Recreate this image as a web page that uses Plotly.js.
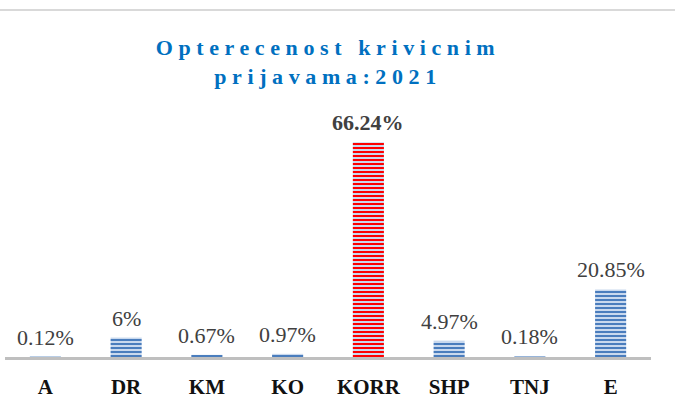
<!DOCTYPE html>
<html>
<head>
<meta charset="utf-8">
<script src="https://cdn.plot.ly/plotly-3.0.1.min.js"></script>
<style>
html, body { margin: 0; padding: 0; background: #ffffff; }
#chart { width: 675px; height: 409px; }
.gtitle { letter-spacing: 5.6px; }
</style>
</head>
<body>
<div id="chart"></div>
<script>
const categories = ["A", "DR", "KM", "KO", "KORR", "SHP", "TNJ", "E"];
const values = [0.12, 6, 0.67, 0.97, 66.24, 4.97, 0.18, 20.85];
const labels = ["0.12%", "6%", "0.67%", "0.97%", "<b>66.24%</b>", "4.97%", "0.18%", "20.85%"];
const stripeColors = ["#4a7dbd", "#4a7dbd", "#4a7dbd", "#4a7dbd", "#ff0000", "#4a7dbd", "#4a7dbd", "#4a7dbd"];
const titleText = "Opterecenost krivicnim<br>prijavama:2021";

const trace = {
  type: "bar",
  x: categories,
  y: values,
  width: 0.385,
  marker: {
    color: "#c9d9ee",
    line: { width: 0 },
    pattern: {
      shape: "-",
      fgcolor: stripeColors,
      bgcolor: "#c9d9ee",
      size: 4,
      solidity: 0.5,
      fillmode: "replace"
    }
  },
  hoverinfo: "none"
};

const valueLabels = categories.map((c, i) => ({
  x: c,
  y: values[i],
  xref: "x",
  yref: "y",
  text: labels[i],
  showarrow: false,
  xanchor: "center",
  yanchor: "bottom",
  yshift: 5,
  font: { family: "Liberation Serif", size: 22, color: "#404040" }
}));

const layout = {
  width: 675,
  height: 409,
  margin: { l: 5, r: 24, t: 130, b: 52, pad: 0 },
  paper_bgcolor: "#ffffff",
  plot_bgcolor: "#ffffff",
  showlegend: false,
  title: {
    text: titleText,
    font: { family: "Liberation Serif", size: 22, color: "#0070c0", weight: "bold" },
    x: 0.5,
    xref: "paper",
    xanchor: "center",
    y: 1 - 55 / 409,
    yref: "container",
    yanchor: "top"
  },
  xaxis: {
    type: "category",
    showline: true,
    linecolor: "#bfbfbf",
    linewidth: 3,
    showgrid: false,
    zeroline: false,
    ticks: "",
    ticklabelstandoff: 9,
    tickfont: { family: "Liberation Serif", size: 21, color: "#111111", weight: "bold" }
  },
  yaxis: {
    range: [0, 70],
    visible: false,
    showgrid: false,
    zeroline: false
  },
  annotations: valueLabels,
  shapes: [{
    type: "line",
    xref: "paper",
    yref: "paper",
    x0: -0.1,
    x1: 1.1,
    y0: 1 + 120 / 227,
    y1: 1 + 120 / 227,
    line: { color: "#d9d9d9", width: 2 }
  }]
};

Plotly.newPlot("chart", [trace], layout, { displayModeBar: false, staticPlot: true });
</script>
</body>
</html>
